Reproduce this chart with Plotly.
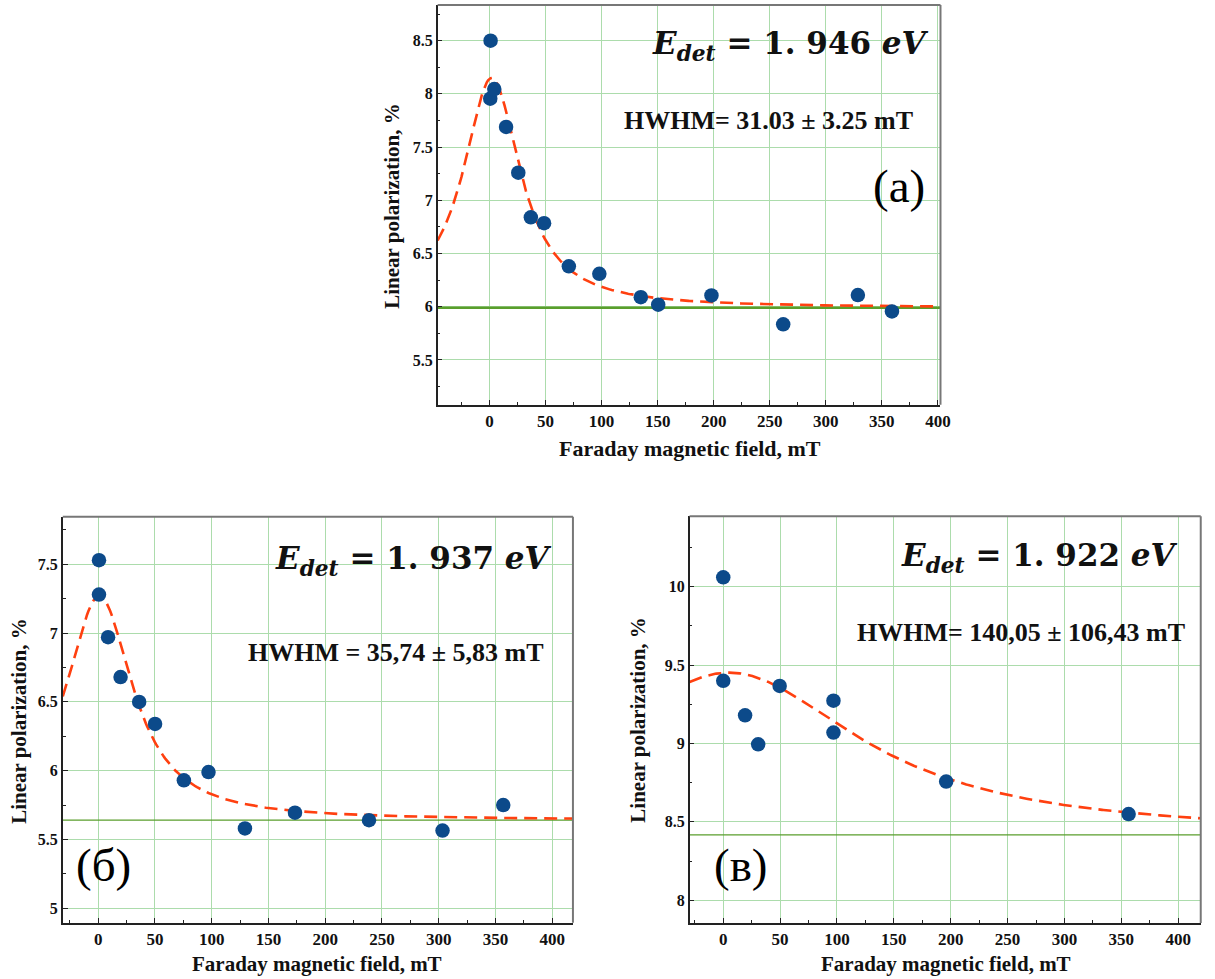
import numpy as np
import plotly.graph_objects as go

# ---------------- data ----------------
# Panel (a)
xa = [1, 0.7, 4.3, 14.8, 25.7, 36.9, 48.7, 70.8, 98, 135, 150.5, 198, 262, 328.6, 359]
ya = [8.50, 7.955, 8.045, 7.69, 7.26, 6.84, 6.785, 6.38, 6.31, 6.09, 6.02, 6.106, 5.835, 6.11, 5.956]
# Panel (б)
xb = [0.7, 0.7, 8.7, 19.7, 36.1, 50.1, 75.5, 97.2, 129.3, 173.4, 238.6, 303.4, 356.9]
yb = [7.53, 7.28, 6.97, 6.68, 6.50, 6.34, 5.93, 5.99, 5.58, 5.695, 5.64, 5.565, 5.75]
# Panel (в)
xv = [0, 0, 19.2, 30.7, 49.6, 96.9, 96.9, 196, 356.4]
yv = [10.06, 9.40, 9.18, 8.995, 9.367, 9.273, 9.07, 8.757, 8.55]

# Lorentzian fit parameters: baseline y0, amplitude A, centre xc, HWHM w
fit_a = dict(y0=5.99, A=2.16, xc=2.0, w=31.03)
fit_b = dict(y0=5.64, A=1.63, xc=1.0, w=35.74)
fit_v = dict(y0=8.417, A=1.035, xc=5.0, w=140.05)

x_ticks = [0, 50, 100, 150, 200, 250, 300, 350, 400]
x_ticktext = ["0", "50", "100", "150", "200", "250", "300", "350", "400"]
ya_ticks = [5.5, 6, 6.5, 7, 7.5, 8, 8.5]
ya_ticktext = ["5.5", "6", "6.5", "7", "7.5", "8", "8.5"]
yb_ticks = [5, 5.5, 6, 6.5, 7, 7.5]
yb_ticktext = ["5", "5.5", "6", "6.5", "7", "7.5"]
yv_ticks = [8, 8.5, 9, 9.5, 10]
yv_ticktext = ["8", "8.5", "9", "9.5", "10"]

e_texts = ["1. 946", "1. 937", "1. 922"]
hwhm_texts = ["HWHM= 31.03 \u00b1 3.25 mT", "HWHM = 35,74 \u00b1 5,83 mT", "HWHM= 140,05 \u00b1 106,43 mT"]
panel_labels = ["(a)", "(\u0431)", "(\u0432)"]

# ---------------- style ----------------
W, H = 1215, 979
MARK = "#0c4a8a"
FITC = "#ff4010"
BASEC = "#5a9e2c"
GRIDC = "#acdcac"
SERIF = "Liberation Serif, Times New Roman, serif"

panels = [
    # xs, ys, fit, xrange, yrange, xdom(px), ydom(px), yticks, yticktext, baseline width
    (xa, ya, fit_a, [-46.2, 402.3], [5.08, 8.835], [441.3, 948.3], [5, 404.7], ya_ticks, ya_ticktext, 2.5),
    (xb, yb, fit_b, [-31.2, 418.3], [4.895, 7.846], [63.3, 577.7], [516.7, 922.7], yb_ticks, yb_ticktext, 1.2),
    (xv, yv, fit_v, [-29.6, 419.8], [7.855, 10.449], [695.3, 1210.7], [516.3, 923], yv_ticks, yv_ticktext, 1.2),
]

fig = go.Figure()
layout = {}
shapes = []

for i, (xs, ys, fit, xr, yr, xd, yd, yt, ytt, bw) in enumerate(panels):
    n = "" if i == 0 else str(i + 1)
    xref, yref = "x" + n, "y" + n
    xf = np.linspace(xr[0], xr[1], 400)
    yf = fit["y0"] + fit["A"] / (1 + ((xf - fit["xc"]) / fit["w"]) ** 2)
    # baseline
    fig.add_trace(go.Scatter(x=[xr[0], xr[1]], y=[fit["y0"], fit["y0"]], mode="lines",
                             line=dict(color=BASEC, width=bw), xaxis=xref, yaxis=yref,
                             showlegend=False, hoverinfo="skip"))
    # fit
    fig.add_trace(go.Scatter(x=xf, y=yf, mode="lines",
                             line=dict(color=FITC, width=2.6, dash="13px,7px"),
                             xaxis=xref, yaxis=yref, showlegend=False))
    # data
    fig.add_trace(go.Scatter(x=xs, y=ys, mode="markers",
                             marker=dict(color=MARK, size=14.5, line=dict(width=0)),
                             xaxis=xref, yaxis=yref, showlegend=False))

    layout["xaxis" + n] = dict(
        domain=[xd[0] / W, xd[1] / W], range=xr, anchor=yref,
        tickmode="array", tickvals=x_ticks, ticktext=x_ticktext,
        ticks="inside", ticklen=5, tickcolor="#222", tickwidth=1,
        minor=dict(ticks="inside", ticklen=3, tickcolor="#222", dtick=25, tick0=0, showgrid=False),
        showgrid=True, gridcolor=GRIDC, gridwidth=1,
        showline=True, linecolor="#222", linewidth=1.5, mirror=False,
        zeroline=False,
        tickfont=dict(family=SERIF, size=17, color="#111", weight="bold"),
    )
    layout["yaxis" + n] = dict(
        domain=[1 - yd[1] / H, 1 - yd[0] / H], range=yr, anchor=xref,
        tickmode="array", tickvals=yt, ticktext=ytt,
        ticks="inside", ticklen=5, tickcolor="#222", tickwidth=1,
        minor=dict(ticks="inside", ticklen=3, tickcolor="#222", dtick=0.25, tick0=0, showgrid=False),
        showgrid=True, gridcolor=GRIDC, gridwidth=1,
        showline=True, linecolor="#222", linewidth=1.5, mirror=False,
        zeroline=False,
        tickfont=dict(family=SERIF, size=16, color="#111", weight="bold"),
    )
    # top and right frame in gray
    shapes.append(dict(type="line", xref=xref + " domain", yref=yref + " domain",
                       x0=0, x1=1, y0=1, y1=1, line=dict(color="#777", width=2)))
    shapes.append(dict(type="line", xref=xref + " domain", yref=yref + " domain",
                       x0=1, x1=1, y0=0, y1=1, line=dict(color="#777", width=2)))

ann = []


def A(x, y, text, size, family=SERIF, xanchor="left", yanchor="middle", angle=0, color="#111"):
    ann.append(dict(x=x / W, y=1 - y / H, xref="paper", yref="paper", text=text, showarrow=False,
                    xanchor=xanchor, yanchor=yanchor, textangle=angle,
                    font=dict(family=family, size=size, color=color)))


MATH = "DejaVu Serif, serif"
# E_det labels
e_pos = [(655, 46), (275, 560), (906, 557)]
h_pos = [(627, 121), (248, 652), (862, 632)]
l_pos = [(878, 186), (75, 865), (718, 865)]
for k in range(3):
    etxt = ("<b><i>E</i><sub><i>det</i></sub> = " + e_texts[k] + " <i>eV</i></b>")
    A(e_pos[k][0], e_pos[k][1], etxt, 31, family=MATH)
    A(h_pos[k][0], h_pos[k][1], "<b>" + hwhm_texts[k] + "</b>", 26)
    A(l_pos[k][0], l_pos[k][1], panel_labels[k], 47, color="#000")

# axis titles
ytitle = "<b>Linear polarization, %</b>"
xtitle = "<b>Faraday magnetic field, mT</b>"
A(395, 206, ytitle, 21, xanchor="center", angle=-90)
A(19, 721, ytitle, 21, xanchor="center", angle=-90)
A(643, 720, ytitle, 21, xanchor="center", angle=-90)
A(696, 449, xtitle, 22, xanchor="center")
A(320, 964, xtitle, 21, xanchor="center")
A(954, 964, xtitle, 21, xanchor="center")

fig.update_layout(
    width=W, height=H, margin=dict(l=0, r=0, t=0, b=0),
    paper_bgcolor="white", plot_bgcolor="white",
    shapes=shapes, annotations=ann, showlegend=False, **layout
)

fig.write_html("out.html")
